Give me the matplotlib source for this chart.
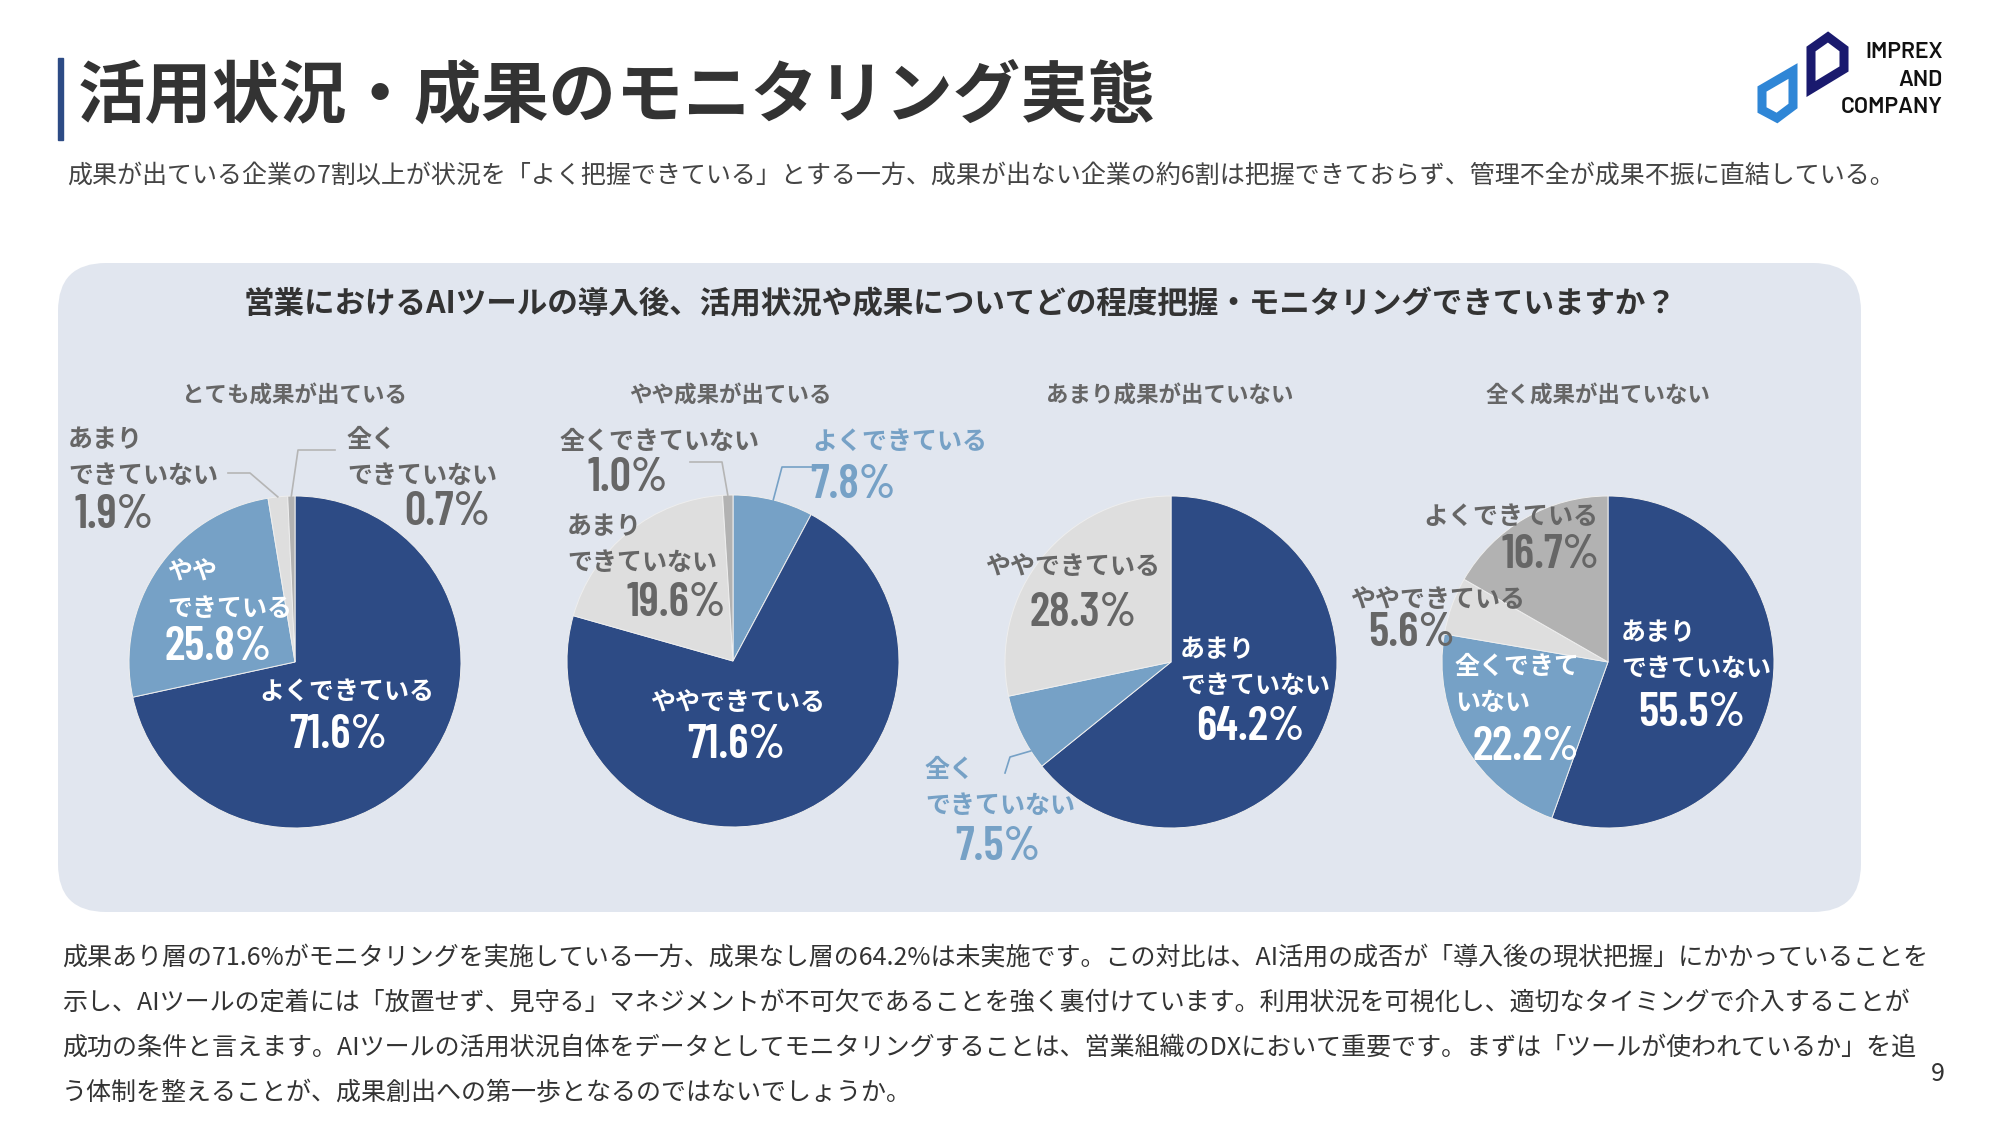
import matplotlib
matplotlib.use('Agg')
import matplotlib.pyplot as plt
from matplotlib.patches import FancyBboxPatch, Polygon, Rectangle
import numpy as np

plt.rcParams['font.family'] = ['Noto Sans CJK JP', 'DejaVu Sans']

W, H = 1999, 1126

# ---- data ----
groups = ['とても成果が出ている', 'やや成果が出ている', 'あまり成果が出ていない', '全く成果が出ていない']

# slice order is clockwise from 12 o'clock
order_1 = ['よくできている', 'ややできている', 'あまりできていない', '全くできていない']
share_1 = [71.6, 25.8, 1.9, 0.7]
order_2 = ['よくできている', 'ややできている', 'あまりできていない', '全くできていない']
share_2 = [7.8, 71.6, 19.6, 1.0]
order_3 = ['あまりできていない', '全くできていない', 'ややできている']
share_3 = [64.2, 7.5, 28.3]
order_4 = ['あまりできていない', '全くできていない', 'ややできている', 'よくできている']
share_4 = [55.5, 22.2, 5.6, 16.7]

orders = [order_1, order_2, order_3, order_4]
shares = [share_1, share_2, share_3, share_4]

# ---- style ----
NAVY = '#2d4b85'
LBLUE = '#76a1c6'
LGRAY = '#dedede'
MGRAY = '#b2b2b2'
TGRAY = '#666666'
PANEL = '#e1e6ef'

pie_colors = [
    [NAVY, LBLUE, LGRAY, MGRAY],
    [LBLUE, NAVY, LGRAY, MGRAY],
    [NAVY, LBLUE, LGRAY],
    [NAVY, LBLUE, LGRAY, MGRAY],
]
centers = [(295, 662), (733, 661), (1171, 662), (1608, 662)]
R = 166
title_x = [295, 730, 1170, 1598]

# label layout per pie: (slice, lines, x, y, ha, pct_x, pct_y, pct_ha, color)
labels = [
    [(0, ['よくできている'], 347, 692, 'center', 338, 735, 'center', 'white'),
     (1, ['やや', 'できている'], 167, 573, 'left', 165, 648, 'left', 'white'),
     (2, ['あまり', 'できていない'], 68, 440, 'left', 75, 515, 'left', TGRAY),
     (3, ['全く', 'できていない'], 347, 440, 'left', 490, 512, 'right', TGRAY)],
    [(0, ['よくできている'], 812, 442, 'left', 810, 485, 'left', LBLUE),
     (1, ['ややできている'], 738, 703, 'center', 736, 745, 'center', 'white'),
     (2, ['あまり', 'できていない'], 567, 527, 'left', 726, 603, 'right', TGRAY),
     (3, ['全くできていない'], 560, 442, 'left', 588, 478, 'left', TGRAY)],
    [(0, ['あまり', 'できていない'], 1180, 650, 'left', 1250, 728, 'center', 'white'),
     (1, ['全く', 'できていない'], 925, 770, 'left', 998, 847, 'center', LBLUE),
     (2, ['ややできている'], 1073, 567, 'center', 1083, 613, 'center', TGRAY)],
    [(0, ['あまり', 'できていない'], 1621, 633, 'left', 1638, 713, 'left', 'white'),
     (1, ['全くできて', 'いない'], 1455, 667, 'left', 1473, 747, 'left', 'white'),
     (2, ['ややできている'], 1350, 600, 'left', 1368, 633, 'left', TGRAY),
     (3, ['よくできている'], 1598, 517, 'right', 1600, 555, 'right', TGRAY)],
]

# leader lines: (pie, slice, points from label side, fraction along wedge, color)
leaders = [
    (0, 2, [(228, 473), (250, 473)], 0.5, '#b5b5b5'),
    (0, 3, [(335, 450), (298, 450)], 0.5, '#b5b5b5'),
    (1, 0, [(812, 467), (782, 467)], 0.5, LBLUE),
    (1, 3, [(690, 462), (722, 462)], 0.5, '#b5b5b5'),
    (2, 1, [(1005, 773), (1010, 757)], 0.24, LBLUE),
]

fig = plt.figure(figsize=(W / 100, H / 100), dpi=100)
ax = fig.add_axes([0, 0, 1, 1])


def T(x, y, s, **kw):
    return ax.text(x, H - y, s, **kw)


# background panel
ax.add_patch(FancyBboxPatch((58, H - 912), 1803, 649,
                            boxstyle='round,pad=0,rounding_size=48',
                            fc=PANEL, ec='none', zorder=0))

# header
ax.add_patch(Rectangle((58, H - 140), 5, 82, color=NAVY, zorder=1))
T(78, 97, '活用状況・成果のモニタリング実態', fontsize=48.5, fontweight='bold',
  color='#333333', va='center', ha='left')
T(67, 176, '成果が出ている企業の7割以上が状況を「よく把握できている」とする一方、成果が出ない企業の約6割は把握できておらず、管理不全が成果不振に直結している。',
  fontsize=18, color='#444444', va='center', ha='left')

# logo
ax.add_patch(Polygon([(1811, H - 49), (1828, H - 37), (1844, H - 49), (1844, H - 69), (1811, H - 89)],
                     closed=True, fill=False, ec='#1a1a6e', lw=6.5, joinstyle='miter', zorder=2))
ax.add_patch(Polygon([(1762, H - 89), (1793, H - 71), (1793, H - 106), (1777, H - 118), (1762, H - 110)],
                     closed=True, fill=False, ec='#2f86d6', lw=6.5, joinstyle='miter', zorder=2))
for txt, yy in [('IMPREX', 52), ('AND', 80), ('COMPANY', 107)]:
    T(1943, yy, txt, fontsize=16.5, fontweight='semibold', color='#111111', ha='right', va='center',
      family=['Barlow', 'DejaVu Sans'])

# panel title
T(960, 304, '営業におけるAIツールの導入後、活用状況や成果についてどの程度把握・モニタリングできていますか？',
  fontsize=22, fontweight='bold', color='#333333', ha='center', va='center')

PCT_FONT = ['Barlow Condensed', 'Noto Sans CJK JP']

for i in range(4):
    cx, cy = centers[i]
    vals = shares[i]
    ax.pie(vals, colors=pie_colors[i], startangle=90, counterclock=False,
           center=(cx, H - cy), radius=R, frame=True,
           wedgeprops=dict(edgecolor='#eeeeee', linewidth=0.7))
    T(title_x[i], 396, groups[i], fontsize=16.2, fontweight='bold', color=TGRAY,
      ha='center', va='center')
    for (k, lines, x, y, ha, px, py, pha, col) in labels[i]:
        for j, ln in enumerate(lines):
            T(x, y + 36 * j, ln, fontsize=18, fontweight='bold', color=col,
              ha=ha, va='center', zorder=5)
        T(px, py, f'{vals[k]:.1f}%', fontsize=34, fontweight='semibold', color=col,
          ha=pha, va='center', family=PCT_FONT, zorder=5)

# leader lines
for (p, k, pts, frac, col) in leaders:
    cx, cy = centers[p]
    vals = shares[p]
    c0 = sum(vals[:k])
    c = c0 + frac * vals[k]
    th = np.deg2rad(90 - 360 * c / sum(vals))
    ex, ey = cx + R * np.cos(th), cy - R * np.sin(th)
    xs = [q[0] for q in pts] + [ex]
    ys = [H - q[1] for q in pts] + [H - ey]
    ax.plot(xs, ys, color=col, lw=1.2, zorder=4)

# body text
body = [
    '成果あり層の71.6%がモニタリングを実施している一方、成果なし層の64.2%は未実施です。この対比は、AI活用の成否が「導入後の現状把握」にかかっていることを',
    '示し、AIツールの定着には「放置せず、見守る」マネジメントが不可欠であることを強く裏付けています。利用状況を可視化し、適切なタイミングで介入することが',
    '成功の条件と言えます。AIツールの活用状況自体をデータとしてモニタリングすることは、営業組織のDXにおいて重要です。まずは「ツールが使われているか」を追',
    'う体制を整えることが、成果創出への第一歩となるのではないでしょうか。',
]
for j, ln in enumerate(body):
    T(62, 958 + 45 * j, ln, fontsize=18, color='#333333', ha='left', va='center')

T(1938, 1074, '9', fontsize=18, color='#333333', ha='center', va='center')

ax.set_xlim(0, W)
ax.set_ylim(0, H)
ax.set_aspect('equal')
ax.axis('off')

fig.savefig('out.png', dpi=100, facecolor='white')
